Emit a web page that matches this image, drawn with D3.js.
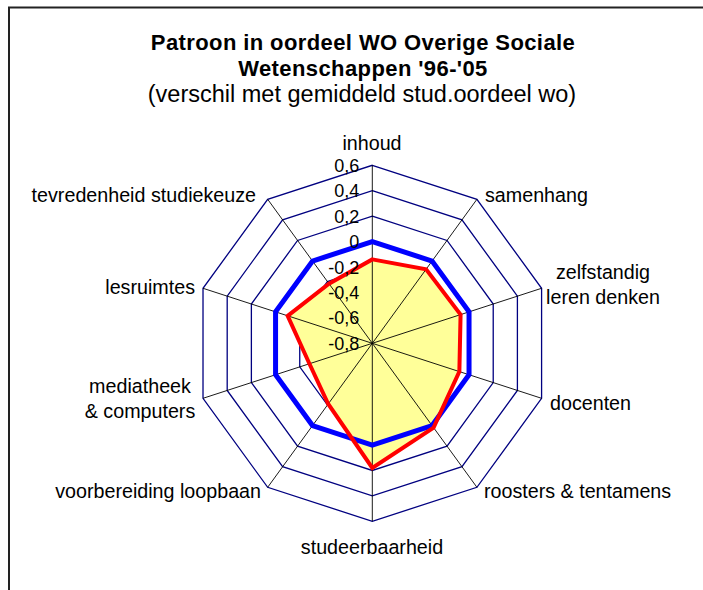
<!DOCTYPE html>
<html>
<head>
<meta charset="utf-8">
<script src="https://cdn.jsdelivr.net/npm/d3@7"></script>
<style>
  html, body { margin: 0; padding: 0; background: #fff; }
  svg { display: block; font-family: "Liberation Sans", Arial, sans-serif; }
</style>
</head>
<body>
<svg id="chart" width="703" height="590"></svg>
<script>
// ---- data ----
const categories = ["inhoud", "samenhang", "zelfstandig leren denken", "docenten",
  "roosters & tentamens", "studeerbaarheid", "voorbereiding loopbaan",
  "mediatheek & computers", "lesruimtes", "tevredenheid studiekeuze"];
const labelLines = [["inhoud"], ["samenhang"], ["zelfstandig", "leren denken"], ["docenten"],
  ["roosters & tentamens"], ["studeerbaarheid"], ["voorbereiding loopbaan"],
  ["mediatheek", "& computers"], ["lesruimtes"], ["tevredenheid studiekeuze"]];
const seriesOverig = [-0.14, -0.08, -0.07, -0.08, 0.02, 0.18, -0.21, -0.28, -0.10, -0.22];
const seriesWO = [0, 0, 0, 0, 0, 0, 0, 0, 0, 0];
const tickValues = [-0.8, -0.6, -0.4, -0.2, 0, 0.2, 0.4, 0.6];
const tickLabels = ["-0,8", "-0,6", "-0,4", "-0,2", "0", "0,2", "0,4", "0,6"];
const titleLines = ["Patroon in oordeel WO Overige Sociale", "Wetenschappen '96-'05"];
const subtitle = "(verschil met gemiddeld stud.oordeel wo)";

// ---- layout ----
const svg = d3.select("#chart");
const cx = 372.3, cy = 343.3, R = 178;
const r = d3.scaleLinear().domain([-0.8, 0.6]).range([0, R]);
const angle = d3.scalePoint().domain(d3.range(categories.length)).range([0, 2 * Math.PI * (categories.length - 1) / categories.length]);
const pt = (i, v) => [cx + r(v) * Math.sin(angle(i)), cy - r(v) * Math.cos(angle(i))];

// frame
svg.append("path").attr("d", "M9,592 L9,7.5 L705,7.5")
  .attr("fill", "none").attr("stroke", "#222").attr("stroke-width", 2);

// rings
const idx = d3.range(categories.length);
tickValues.slice(1).forEach(t => {
  svg.append("path")
    .attr("d", d3.line()(idx.map(i => pt(i, t))) + "Z")
    .attr("fill", "none").attr("stroke", "#000080").attr("stroke-width", 1.3);
});

// area fill
svg.append("path")
  .attr("d", d3.line()(idx.map(i => pt(i, seriesOverig[i]))) + "Z")
  .attr("fill", "#FFFF99").attr("stroke", "none");

// spokes
idx.forEach(i => {
  const p = pt(i, 0.6);
  svg.append("line").attr("x1", cx).attr("y1", cy).attr("x2", p[0]).attr("y2", p[1])
    .attr("stroke", "#000").attr("stroke-width", 0.9);
});

// blue series
svg.append("path")
  .attr("d", d3.line()(idx.map(i => pt(i, seriesWO[i]))) + "Z")
  .attr("fill", "none").attr("stroke", "#0000FF").attr("stroke-width", 5)
  .attr("stroke-linejoin", "miter");

// red series
svg.append("path")
  .attr("d", d3.line()(idx.map(i => pt(i, seriesOverig[i]))) + "Z")
  .attr("fill", "none").attr("stroke", "#FF0000").attr("stroke-width", 4)
  .attr("stroke-linejoin", "miter");

// tick labels
svg.append("g").selectAll("text").data(tickValues).join("text")
  .attr("x", cx - 13).attr("y", d => cy - r(d) + 6.5)
  .attr("text-anchor", "end").attr("font-size", 18).attr("fill", "#000")
  .text((d, i) => tickLabels[i]);

// category labels
const labelPos = [
  {x: 372, y: 150, a: "middle"},
  {x: 485, y: 202, a: "start"},
  {x: 603, y: 279, a: "middle"},
  {x: 550, y: 410, a: "start"},
  {x: 484, y: 498, a: "start"},
  {x: 372, y: 554, a: "middle"},
  {x: 261, y: 498, a: "end"},
  {x: 140, y: 393, a: "middle"},
  {x: 195, y: 294, a: "end"},
  {x: 256, y: 202, a: "end"}
];
labelLines.forEach((lines, i) => {
  const t = svg.append("text").attr("x", labelPos[i].x).attr("y", labelPos[i].y)
    .attr("text-anchor", labelPos[i].a).attr("font-size", 19.7).attr("fill", "#000");
  lines.forEach((l, j) => t.append("tspan").attr("x", labelPos[i].x).attr("dy", j ? 25 : 0).text(l));
});

// titles
titleLines.forEach((l, j) => {
  svg.append("text").attr("x", 363).attr("y", 50 + j * 26).attr("text-anchor", "middle")
    .attr("font-size", 22).attr("font-weight", "bold").attr("letter-spacing", 0.4)
    .attr("fill", "#000").text(l);
});
svg.append("text").attr("x", 362).attr("y", 102).attr("text-anchor", "middle")
  .attr("font-size", 23.5).attr("fill", "#000").text(subtitle);
</script>
</body>
</html>
